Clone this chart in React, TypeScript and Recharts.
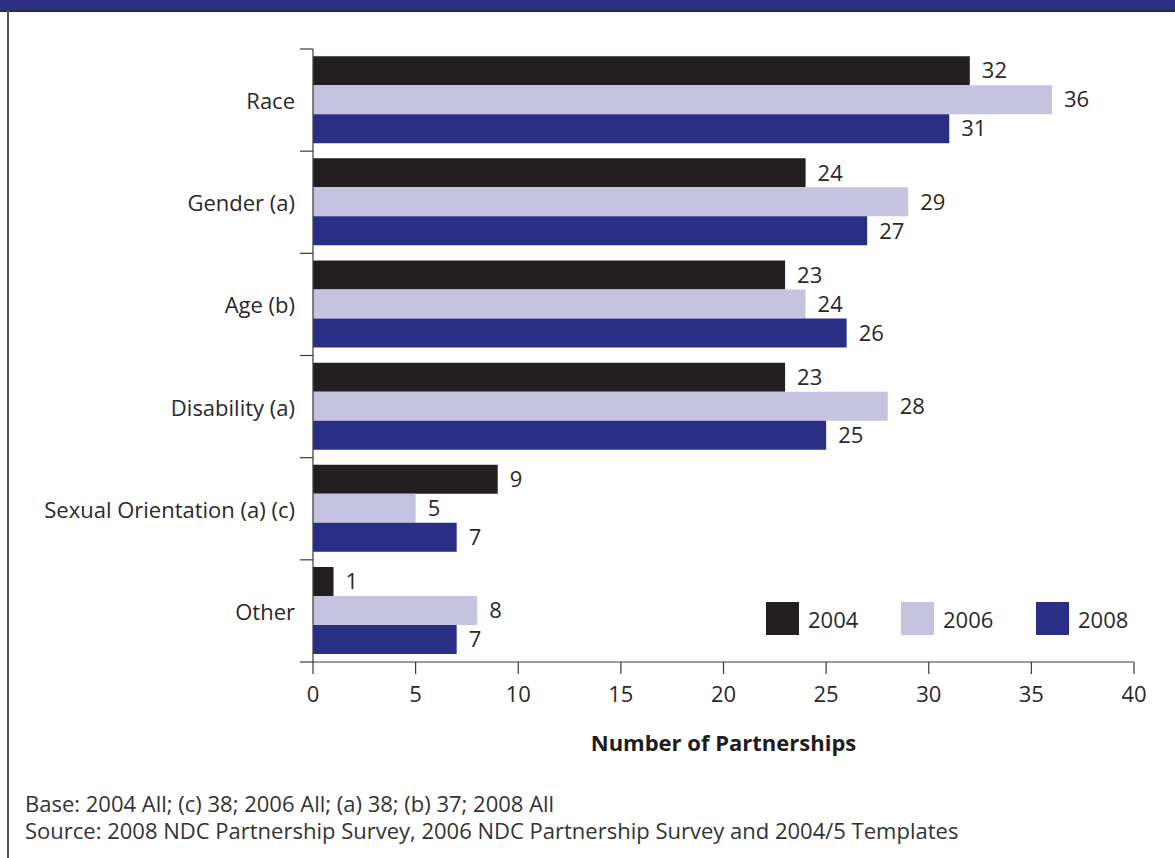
import React from 'react';
import {
  BarChart,
  Bar,
  XAxis,
  YAxis,
  LabelList,
} from 'recharts';

// Categories top to bottom
const categories = [
  'Race',
  'Gender (a)',
  'Age (b)',
  'Disability (a)',
  'Sexual Orientation (a) (c)',
  'Other',
];

const values2004 = [32, 24, 23, 23, 9, 1];
const values2006 = [36, 29, 24, 28, 5, 8];
const values2008 = [31, 27, 26, 25, 7, 7];

const xTicks = [0, 5, 10, 15, 20, 25, 30, 35, 40];

const seriesNames = ['2004', '2006', '2008'];
const seriesColors = ['#231f20', '#c5c3df', '#2a2e84'];

const footnotes = [
  'Base: 2004 All; (c) 38; 2006 All; (a) 38; (b) 37; 2008 All',
  'Source: 2008 NDC Partnership Survey, 2006 NDC Partnership Survey and 2004/5 Templates',
];

const data = categories.map((name, i) => ({
  name,
  y2004: values2004[i],
  y2006: values2006[i],
  y2008: values2008[i],
}));

const FONT = '"Open Sans", "Noto Sans", sans-serif';
const TEXT = '#2b2829';
const AXIS = '#3a3a3a';
const FS = 22;

// Category label plus tick marks on the band boundaries
const CategoryTick = (props: any) => {
  const { x, y, payload, index, visibleTicksCount } = props;
  const half = payload.offset ?? 51;
  const x1 = x + 5;
  const x2 = x + 18;
  return (
    <g>
      <text
        x={x}
        y={y}
        textAnchor="end"
        dominantBaseline="central"
        fill={TEXT}
        fontSize={FS}
        fontFamily={FONT}
      >
        {payload.value}
      </text>
      <line x1={x1} x2={x2} y1={y - half} y2={y - half} stroke={AXIS} strokeWidth={1.2} />
      {index === visibleTicksCount - 1 && (
        <line x1={x1} x2={x2} y1={y + half} y2={y + half} stroke={AXIS} strokeWidth={1.2} />
      )}
    </g>
  );
};

export default function App() {
  return (
    <div
      style={{
        position: 'absolute',
        left: 0,
        top: 0,
        width: 1175,
        height: 858,
        background: '#fff',
        overflow: 'hidden',
        fontFamily: FONT,
      }}
    >
      {/* header band and left frame */}
      <div style={{ position: 'absolute', left: 0, top: 0, width: 1175, height: 10, background: '#2a2e84' }} />
      <div style={{ position: 'absolute', left: 0, top: 10, width: 1175, height: 1.5, background: '#2b2b3b' }} />
      <div style={{ position: 'absolute', left: 7, top: 10, width: 1.5, height: 848, background: '#555' }} />

      <BarChart
        width={1175}
        height={858}
        data={data}
        layout="vertical"
        margin={{ top: 49, right: 41, bottom: 104, left: 0 }}
        barGap={0}
        barCategoryGap="7%"
        style={{ position: 'absolute', left: 0, top: 0 }}
      >
        <XAxis
          type="number"
          domain={[0, 40]}
          ticks={xTicks}
          interval={0}
          height={92}
          tickSize={12}
          tickMargin={12}
          axisLine={{ stroke: AXIS, strokeWidth: 1.2 }}
          tickLine={{ stroke: AXIS, strokeWidth: 1.2 }}
          tick={{ fill: TEXT, fontSize: FS, fontFamily: FONT }}
          label={{
            value: 'Number of Partnerships',
            position: 'insideBottom',
            offset: 3,
            style: { fill: '#1f1c1d', fontSize: FS, fontWeight: 700, fontFamily: FONT },
          }}
        />
        <YAxis
          type="category"
          dataKey="name"
          width={313}
          interval={0}
          tickSize={13}
          tickMargin={5}
          tickLine={false}
          axisLine={{ stroke: AXIS, strokeWidth: 1.2 }}
          tick={<CategoryTick />}
        />
        {['y2004', 'y2006', 'y2008'].map((key, i) => (
          <Bar
            key={key}
            dataKey={key}
            name={seriesNames[i]}
            fill={seriesColors[i]}
            isAnimationActive={false}
          >
            <LabelList
              dataKey={key}
              position="right"
              offset={12}
              style={{ fill: TEXT, fontSize: FS, fontFamily: FONT }}
            />
          </Bar>
        ))}
      </BarChart>

      {/* legend */}
      <div
        style={{
          position: 'absolute',
          left: 766,
          top: 602,
          display: 'flex',
          fontSize: FS,
          color: TEXT,
        }}
      >
        {seriesNames.map((n, i) => (
          <div key={n} style={{ display: 'flex', alignItems: 'center', width: 135 }}>
            <span
              style={{
                display: 'inline-block',
                width: 33,
                height: 33,
                background: seriesColors[i],
                marginRight: 9,
              }}
            />
            <span>{n}</span>
          </div>
        ))}
      </div>

      {footnotes.map((t, i) => (
        <div
          key={i}
          style={{
            position: 'absolute',
            left: 25,
            top: 790 + i * 27,
            fontSize: FS,
            color: '#333',
            whiteSpace: 'nowrap',
            lineHeight: '27px',
          }}
        >
          {t}
        </div>
      ))}
    </div>
  );
}
